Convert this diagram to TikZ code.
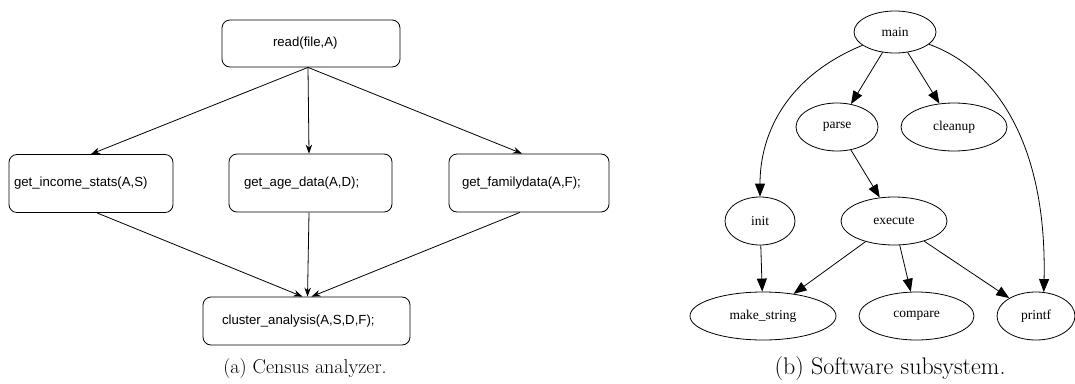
\documentclass[tikz,border=0pt]{standalone}
\usepackage{fontspec}
\usepackage{tikz}
\usetikzlibrary{shapes}
\usetikzlibrary{arrows.meta}
\newfontfamily\boxfont{Liberation Sans}
\newfontfamily\graphfont{Liberation Serif}

\begin{document}
\begin{tikzpicture}[x=1pt,y=-1pt]
	 \tikzstyle{func}=[draw,rounded corners=8pt,line width=0.8pt,minimum height=58pt,align=left,font=\boxfont\fontsize{13.2}{16}\selectfont]
	 \tikzstyle{proc}=[ellipse,draw,line width=0.8pt,inner sep=0pt,minimum height=48pt,font=\graphfont\fontsize{13.5}{16}\selectfont]
	 \tikzstyle{flow} = [-{Stealth[length=9pt,width=6.5pt]},black,line width=0.8pt]
	 \tikzstyle{call} = [-{Triangle[length=13pt,width=10pt]},black,line width=0.8pt]
	 \tikzstyle{caption} = [font=\fontsize{20}{24}\selectfont]

	 \useasboundingbox (0,0) rectangle (1075,383);

	 \node[func,minimum height=47pt,inner xsep=51pt,text width=76pt] (read) at (311,43.5) {read(file,A)};
	 \node[func,inner xsep=5pt,text width=154pt] (income) at (91,183.5) {get\_income\_stats(A,S)};
	 \node[func,inner xsep=15pt,text width=133pt] (age) at (310.5,183) {get\_age\_data(A,D);};
	 \node[func,inner xsep=13pt,text width=134pt] (family) at (529,183) {get\_familydata(A,F);};
	 \node[func,minimum height=48pt,inner xsep=19pt,text width=169pt] (cluster) at (306.5,321) {cluster\_analysis(A,S,D,F);};

	 \draw[flow] ([xshift=-3pt]read.south) -- (income.north);
	 \draw[flow] ([xshift=-3pt]read.south) -- ([xshift=-1.5pt]age.north);
	 \draw[flow] ([xshift=-3pt]read.south) -- ([xshift=-7pt]family.north);
	 \draw[flow] ([xshift=6pt]income.south) -- ([xshift=-4pt]cluster.north);
	 \draw[flow] ([xshift=-1.5pt]age.south) -- ([xshift=1pt]cluster.north);
	 \draw[flow] ([xshift=-9pt]family.south) -- ([xshift=5pt]cluster.north);

	 \node[proc,minimum width=82pt,minimum height=42pt] (main) at (895,32) {main};
	 \node[proc,minimum width=82pt] (parse) at (837,127) {parse};
	 \node[proc,minimum width=106pt] (cleanup) at (954,127) {cleanup};
	 \node[proc,minimum width=70pt] (init) at (760,221) {init};
	 \node[proc,minimum width=106pt] (execute) at (894,221) {execute};
	 \node[proc,minimum width=146pt] (makestring) at (763,316) {make\_string};
	 \node[proc,minimum width=115pt] (compare) at (916.5,316) {compare};
	 \node[proc,minimum width=78pt] (printf) at (1036,316) {printf};

	 \draw[call] (main) .. controls (790,75) and (760,130) .. (init);
	 \draw[call] (main) .. controls (1000,70) and (1047,150) .. (printf.72);
	 \draw[call] (main) -- (parse);
	 \draw[call] (main) -- (cleanup);
	 \draw[call] (parse) -- (execute);
	 \draw[call] (init) -- (makestring);
	 \draw[call] (execute) -- (makestring);
	 \draw[call] (execute) -- (compare);
	 \draw[call] (execute) -- (printf);

	 \node[caption] (capa) at (305,369) {(a) Census analyzer.};
	 \node[caption,font=\fontsize{24}{28}\selectfont] (capb) at (890,369) {(b) Software subsystem.};
\end{tikzpicture}
\end{document}
